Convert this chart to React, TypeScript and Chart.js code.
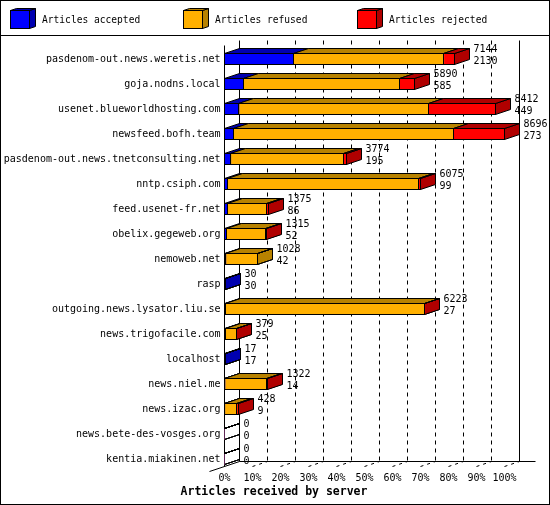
import React, { useEffect, useRef } from 'react';
import { Chart, registerables } from 'chart.js';

Chart.register(...registerables);

// ---------- data ----------
const servers = [
  'pasdenom-out.news.weretis.net',
  'goja.nodns.local',
  'usenet.blueworldhosting.com',
  'newsfeed.bofh.team',
  'pasdenom-out.news.tnetconsulting.net',
  'nntp.csiph.com',
  'feed.usenet-fr.net',
  'obelix.gegeweb.org',
  'nemoweb.net',
  'rasp',
  'outgoing.news.lysator.liu.se',
  'news.trigofacile.com',
  'localhost',
  'news.niel.me',
  'news.izac.org',
  'news.bete-des-vosges.org',
  'kentia.miakinen.net',
];
const accepted = [2130, 585, 449, 273, 195, 99, 86, 52, 42, 30, 27, 25, 17, 14, 9, 0, 0];
const refused = [4681, 4843, 5892, 6833, 3490, 5911, 1218, 1231, 986, 0, 6186, 349, 0, 1293, 375, 0, 0];
const rejected = [333, 462, 2071, 1590, 89, 65, 71, 32, 0, 0, 10, 5, 0, 15, 44, 0, 0];
const seriesLabels = ['Articles accepted', 'Articles refused', 'Articles rejected'];
const xTicks = [0, 10, 20, 30, 40, 50, 60, 70, 80, 90, 100];
const axisTitle = 'Articles received by server';

// ---------- styles ----------
const FRONT = ['#0000ff', '#ffb000', '#ff0000'];
const DARK = ['#0000b0', '#b88200', '#b00000'];
const DX = 15;
const DY = 5;
const FONT = '"DejaVu Sans Mono", monospace';

const seriesData = [accepted, refused, rejected];
const totals = servers.map((_, i) => accepted[i] + refused[i] + rejected[i]);
const maxTotal = Math.max(...totals);
const pct = (arr: number[]) => arr.map((v) => (v / maxTotal) * 100);

const hp = (v: number) => Math.round(v - 0.5) + 0.5;

function line(ctx: CanvasRenderingContext2D, x1: number, y1: number, x2: number, y2: number) {
  ctx.beginPath();
  ctx.moveTo(x1, y1);
  ctx.lineTo(x2, y2);
  ctx.stroke();
}

function poly(ctx: CanvasRenderingContext2D, pts: number[][], fill: string | null) {
  ctx.beginPath();
  ctx.moveTo(pts[0][0], pts[0][1]);
  for (let i = 1; i < pts.length; i++) ctx.lineTo(pts[i][0], pts[i][1]);
  ctx.closePath();
  if (fill) {
    ctx.fillStyle = fill;
    ctx.fill();
  }
  ctx.stroke();
}

function segments(chart: any, i: number) {
  return chart.data.datasets.map((_: any, d: number) => {
    const el = chart.getDatasetMeta(d).data[i] as any;
    const x0 = hp(Math.min(el.base, el.x));
    const x1 = hp(Math.max(el.base, el.x));
    const yT = hp(el.y - el.height / 2);
    const yB = hp(el.y + el.height / 2);
    return { x0, x1, yT, yB, d, zero: seriesData[d][i] === 0 };
  });
}

const bars3d = {
  id: 'bars3d',
  beforeDatasetsDraw(chart: any) {
    const { ctx, chartArea: a, scales } = chart;
    const x = scales.x;
    ctx.save();
    ctx.strokeStyle = '#000';
    ctx.lineWidth = 1;
    const backTop = a.top - 6;
    const frontTop = a.top - 1;
    const frontBot = a.bottom - 5;
    const backBot = a.bottom - 10;
    const xl = hp(x.getPixelForValue(0));
    const xr = hp(x.getPixelForValue(100));

    ctx.setLineDash([4, 4]);
    xTicks.slice(1, -1).forEach((v) => {
      const xb = hp(x.getPixelForValue(v)) + DX;
      line(ctx, xb, backTop, xb, backBot);
    });
    ctx.setLineDash([3, 4]);
    xTicks.slice(1).forEach((v) => {
      const xf = hp(x.getPixelForValue(v));
      line(ctx, xf, frontBot, xf + DX, backBot);
    });
    ctx.setLineDash([]);
    line(ctx, xl + DX, backTop, xl + DX, backBot);
    line(ctx, xr + DX, backTop, xr + DX, backBot);
    line(ctx, xl, frontTop, xl, frontBot);
    line(ctx, xl + DX, backBot, xr + DX + 16, backBot);
    line(ctx, xl - DX, frontBot + DY, xl + DX, backBot);

    // side faces
    servers.forEach((_, i) => {
      segments(chart, i).forEach((s: any) => {
        poly(
          ctx,
          [
            [s.x1, s.yT],
            [s.x1, s.yB],
            [s.x1 + DX, s.yB - DY],
            [s.x1 + DX, s.yT - DY],
          ],
          s.zero ? null : DARK[s.d]
        );
      });
    });
    ctx.restore();
  },
  afterDatasetsDraw(chart: any) {
    const { ctx, scales } = chart;
    const x = scales.x;
    ctx.save();
    ctx.strokeStyle = '#000';
    ctx.lineWidth = 1;
    servers.forEach((_, i) => {
      const segs = segments(chart, i);
      segs.forEach((s: any) => {
        poly(
          ctx,
          [
            [s.x0, s.yT],
            [s.x1, s.yT],
            [s.x1 + DX, s.yT - DY],
            [s.x0 + DX, s.yT - DY],
          ],
          s.zero ? null : DARK[s.d]
        );
        if (!s.zero) ctx.strokeRect(s.x0, s.yT, s.x1 - s.x0, s.yB - s.yT);
      });
      const yc = (segs[0].yT + segs[0].yB) / 2;
      const xe = hp(x.getPixelForValue((totals[i] / maxTotal) * 100)) + DX + 4;
      ctx.fillStyle = '#000';
      ctx.font = `10px ${FONT}`;
      ctx.textAlign = 'left';
      ctx.textBaseline = 'middle';
      ctx.fillText(String(totals[i]), xe, yc - 9.5);
      ctx.fillText(String(accepted[i]), xe, yc + 2);
    });
    ctx.restore();
  },
  afterDraw(chart: any) {
    const { ctx, width, height } = chart;
    ctx.save();
    ctx.strokeStyle = '#000';
    ctx.lineWidth = 1;
    // legend
    const lx = [10, 183, 357];
    chart.data.datasets.forEach((ds: any, d: number) => {
      const x0 = lx[d] + 0.5;
      const y0 = 10.5;
      const w = 19;
      const hh = 18;
      poly(ctx, [[x0 + w, y0], [x0 + w + 6, y0 - 2], [x0 + w + 6, y0 + hh - 2], [x0 + w, y0 + hh]], DARK[d]);
      poly(ctx, [[x0, y0], [x0 + w, y0], [x0 + w + 6, y0 - 2], [x0 + 6, y0 - 2]], DARK[d]);
      ctx.fillStyle = FRONT[d];
      ctx.fillRect(x0, y0, w, hh);
      ctx.strokeRect(x0, y0, w, hh);
      ctx.fillStyle = '#000';
      ctx.font = `9.6px ${FONT}`;
      ctx.textAlign = 'left';
      ctx.textBaseline = 'middle';
      ctx.fillText(ds.label, lx[d] + 32, 20);
    });
    line(ctx, 0, 35.5, width, 35.5);
    // axis title
    ctx.fillStyle = '#000';
    ctx.font = `bold 11.5px ${FONT}`;
    ctx.textAlign = 'center';
    ctx.textBaseline = 'middle';
    ctx.fillText(axisTitle, 274, 492);
    ctx.strokeRect(0.5, 0.5, width - 1, height - 1);
    ctx.restore();
  },
};

export default function App() {
  const ref = useRef<HTMLCanvasElement | null>(null);
  useEffect(() => {
    document.body.style.margin = '0';
    const canvas = ref.current;
    if (!canvas) return;
    const chart = new Chart(canvas, {
      type: 'bar',
      data: {
        labels: servers,
        datasets: seriesLabels.map((label, d) => ({
          label,
          data: pct(seriesData[d]),
          backgroundColor: FRONT[d],
          borderWidth: 0,
          barThickness: 11,
        })),
      },
      options: {
        indexAxis: 'y',
        responsive: false,
        animation: false,
        devicePixelRatio: 1,
        layout: { padding: { top: 46.5, right: 45.5, left: 0, bottom: 0 } },
        plugins: {
          legend: { display: false },
          tooltip: { enabled: false },
        },
        scales: {
          x: {
            type: 'linear',
            stacked: true,
            min: 0,
            max: 100,
            grid: { display: false, drawTicks: false },
            border: { display: false },
            ticks: {
              stepSize: 10,
              autoSkip: false,
              maxRotation: 0,
              padding: 1,
              color: '#000',
              font: { family: FONT, size: 10 },
              callback: (v: any) => `${v}%`,
            },
            afterFit: (s: any) => {
              s.height = 33.5;
            },
          },
          y: {
            type: 'category',
            stacked: true,
            grid: { display: false, drawTicks: false },
            border: { display: false },
            ticks: {
              autoSkip: false,
              padding: 4,
              color: '#000',
              font: { family: FONT, size: 10 },
            },
            afterFit: (s: any) => {
              s.width = 224.5;
            },
          },
        },
      } as any,
      plugins: [bars3d as any],
    });
    return () => chart.destroy();
  }, []);
  return (
    <div style={{ width: 550, height: 505, background: '#fff' }}>
      <canvas ref={ref} width={550} height={505} style={{ display: 'block', background: '#fff' }} />
    </div>
  );
}
